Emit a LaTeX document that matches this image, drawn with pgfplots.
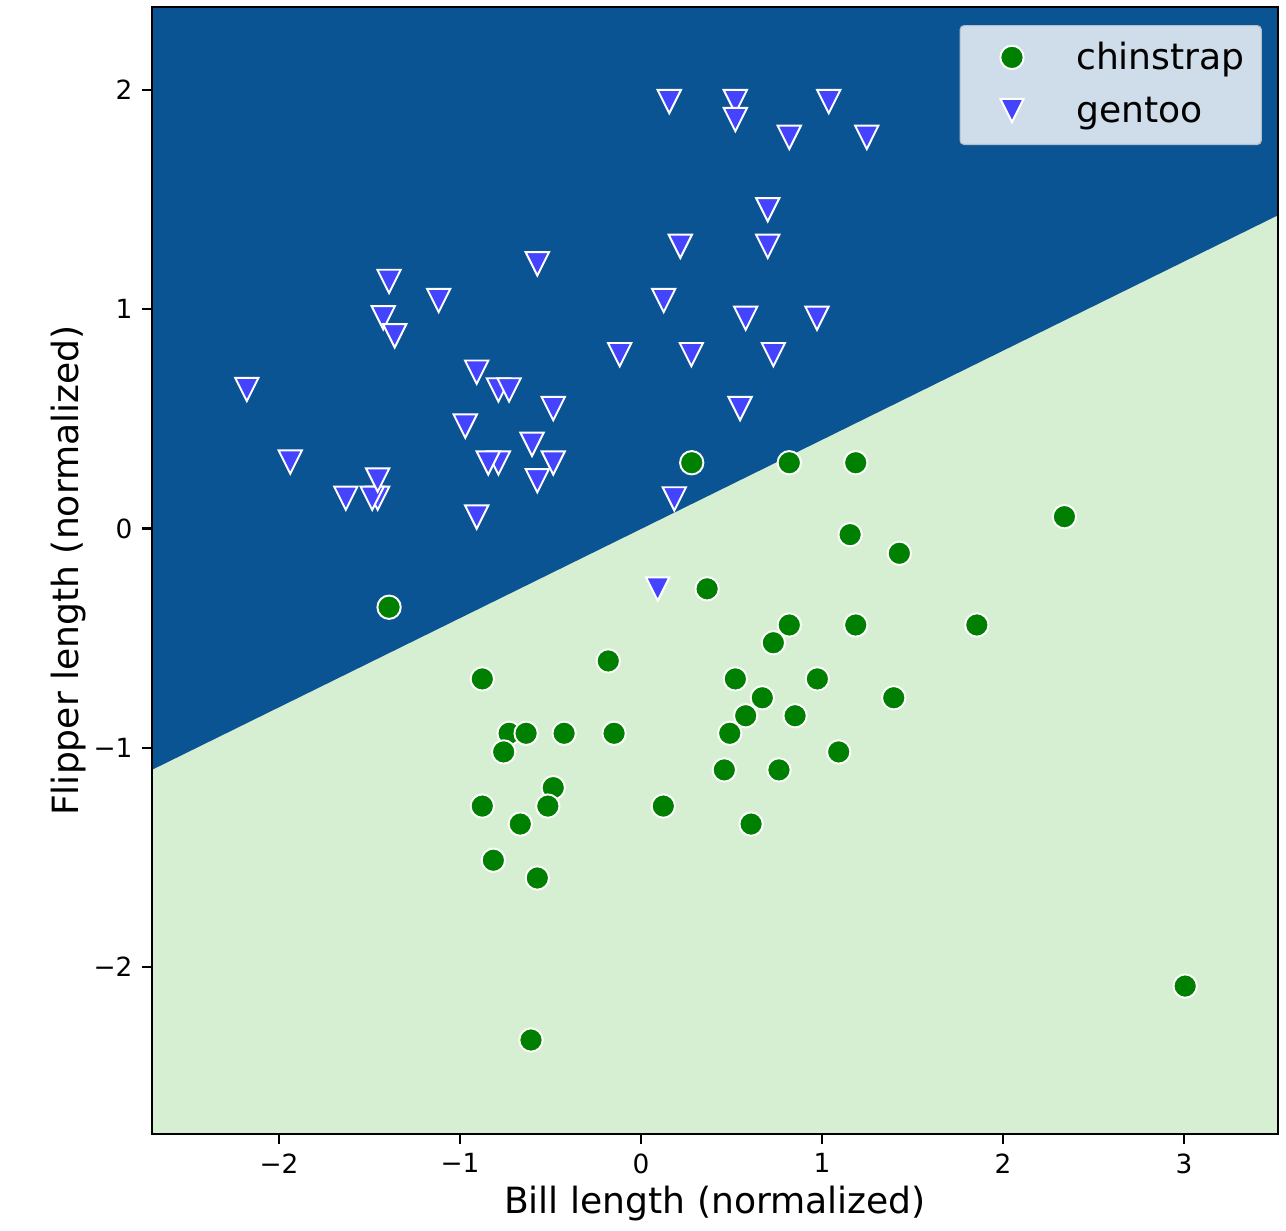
\documentclass[border=0pt]{standalone}
\usepackage{fontspec}
\setmainfont{DejaVu Sans}
\usepackage{pgfplots}
\pgfplotsset{compat=1.18}

\definecolor{regionblue}{RGB}{10,84,148}
\definecolor{regiongreen}{RGB}{214,239,210}
\definecolor{chingreen}{RGB}{0,128,0}
\definecolor{gentooblue}{RGB}{68,68,255}
\definecolor{legendfill}{RGB}{206,221,233}
\definecolor{legendedge}{RGB}{178,192,205}

% downward triangle, as wide as it is tall
\pgfdeclareplotmark{tridown}{%
  \pgfpathmoveto{\pgfqpoint{0pt}{-\pgfplotmarksize}}%
  \pgfpathlineto{\pgfqpoint{-\pgfplotmarksize}{\pgfplotmarksize}}%
  \pgfpathlineto{\pgfqpoint{\pgfplotmarksize}{\pgfplotmarksize}}%
  \pgfpathclose
  \pgfusepathqfillstroke
}

\begin{document}
\begin{tikzpicture}
\useasboundingbox (0,0) rectangle (462.96pt,442.8pt);
\begin{axis}[
  at={(54.72pt,34.56pt)}, anchor=south west,
  scale only axis, width=405.36pt, height=405.72pt,
  xmin=-2.7017, xmax=3.519, ymin=-2.7617, ymax=2.3786,
  axis background/.style={fill=regiongreen},
  axis on top,
  axis line style={line width=0.8pt, black},
  tick style={line width=0.8pt, black},
  major tick length=3.5pt,
  tick align=outside,
  tick pos=left,
  xtick={-2,-1,0,1,2,3},
  xticklabels={−2,−1,0,1,2,3},
  ytick={-2,-1,0,1,2},
  yticklabels={−2,−1,0,1,2},
  ticklabel style={font=\fontsize{9.5}{11}\selectfont},
  xlabel={Bill length (normalized)},
  ylabel={Flipper length (normalized)},
  label style={font=\fontsize{13}{15.6}\selectfont},
  xlabel style={at={(axis description cs:0.5,-0.0705)}, anchor=base},
  ylabel style={at={(axis description cs:-0.0657,0.5)}, anchor=base, rotate=0},
  legend style={
    at={(axis description cs:1,1)}, anchor=north east,
    xshift=-5.8pt, yshift=-6.5pt,
    fill=legendfill, draw=legendedge, line width=0.4pt,
    rounded corners=1.5pt,
    inner xsep=6pt, inner ysep=5.45pt,
    row sep=6.3pt, column sep=0pt,
    nodes={inner sep=0pt, text height=10.3pt, text depth=2.5pt},
    font=\fontsize{13}{15.6}\selectfont,
    cells={anchor=west},
  },
  legend image code/.code={
    \path[draw=none, fill=none] (0pt,0pt) -- (35.8pt,0pt);
    \draw[#1, only marks] plot coordinates {(12.7pt,0.4pt)};
  },
]

% decision regions: gentoo side above the boundary line
\addplot[fill=regionblue, draw=none, forget plot]
  coordinates {(-3,-1.2219) (4,1.6243) (4,3) (-3,3)} -- cycle;

% chinstrap
\addplot[only marks, mark=*, mark size=4.2pt,
  mark options={fill=chingreen, draw=white, line width=0.7pt}]
  coordinates {
  (-1.392,-0.359) (0.280,0.300) (0.819,0.300) (1.186,0.300)
  (1.155,-0.028) (1.427,-0.113) (0.365,-0.275) (2.339,0.054)
  (1.855,-0.440) (3.006,-2.087) (0.819,-0.440) (1.186,-0.440)
  (0.731,-0.521) (-0.181,-0.604) (0.521,-0.686) (0.974,-0.686)
  (0.670,-0.772) (1.396,-0.772) (0.578,-0.854) (0.851,-0.854)
  (0.490,-0.934) (-0.149,-0.934) (-0.425,-0.934) (1.092,-1.019)
  (0.460,-1.101) (0.762,-1.101) (0.123,-1.266) (0.608,-1.348)
  (-0.877,-0.686) (-0.729,-0.934) (-0.635,-0.934) (-0.759,-1.019)
  (-0.485,-1.182) (-0.877,-1.266) (-0.515,-1.266) (-0.667,-1.348)
  (-0.816,-1.513) (-0.573,-1.594) (-0.608,-2.333)
  };
\addlegendentry{chinstrap}

% gentoo
\addplot[only marks, mark=tridown, mark size=4.2pt,
  mark options={fill=gentooblue, draw=white, line width=0.7pt}]
  coordinates {
  (-2.178,0.634) (-1.938,0.303) (-1.631,0.138) (-1.455,0.138)
  (-1.485,0.138) (-1.455,0.221) (-1.392,1.127) (-1.118,1.040)
  (-1.424,0.961) (-1.361,0.879) (-0.573,1.207) (-0.908,0.713)
  (-0.788,0.632) (-0.729,0.632) (-0.485,0.547) (-0.971,0.467)
  (-0.602,0.384) (-0.788,0.299) (-0.844,0.299) (-0.485,0.299)
  (-0.573,0.218) (-0.908,0.052)
  (0.156,1.947) (0.521,1.947) (0.521,1.865) (1.037,1.947)
  (0.819,1.784) (1.247,1.784) (0.700,1.454) (0.217,1.287)
  (0.700,1.287) (0.125,1.040) (0.578,0.959) (0.972,0.959)
  (-0.118,0.793) (0.278,0.793) (0.731,0.793) (0.547,0.547)
  (0.184,0.135) (0.092,-0.276)
  };
\addlegendentry{gentoo}

\end{axis}
\end{tikzpicture}
\end{document}
